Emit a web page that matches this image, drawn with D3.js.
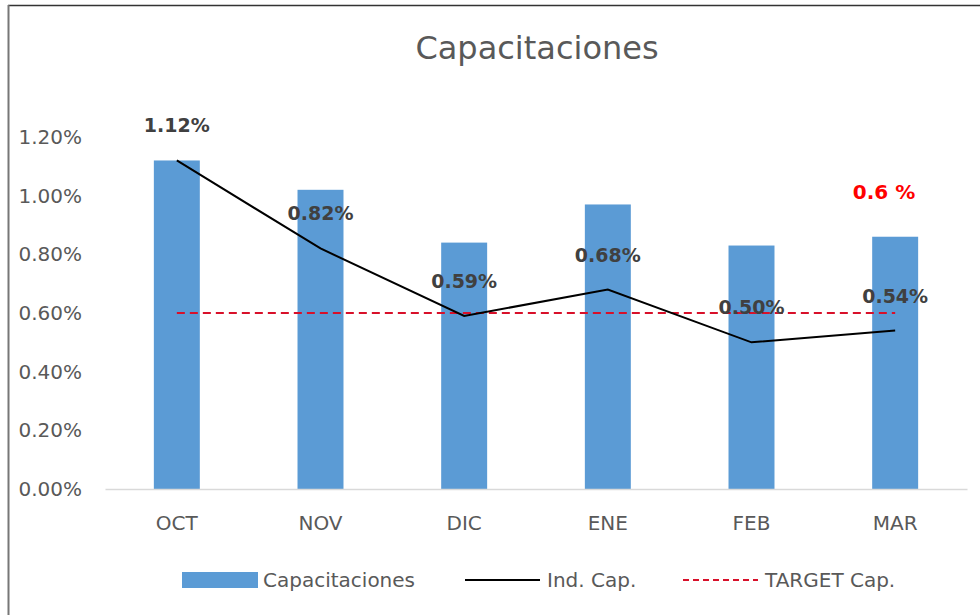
<!DOCTYPE html>
<html>
<head>
<meta charset="utf-8">
<script src="https://cdn.jsdelivr.net/npm/d3@7"></script>
<style>
  body { margin: 0; background: #fff; }
  svg { display: block; }
</style>
</head>
<body>
<svg></svg>
<script>
// Chart data
const months = ["OCT", "NOV", "DIC", "ENE", "FEB", "MAR"];
const capacitaciones = [0.0112, 0.0102, 0.0084, 0.0097, 0.0083, 0.0086];
const indCap = [0.0112, 0.0082, 0.0059, 0.0068, 0.0050, 0.0054];
const targetCap = [0.006, 0.006, 0.006, 0.006, 0.006, 0.006];
const yTicks = [0, 0.002, 0.004, 0.006, 0.008, 0.010, 0.012];

const width = 980;
const height = 615;
const font = "'DejaVu Sans', sans-serif";

const svg = d3.select("svg")
    .attr("width", width)
    .attr("height", height);

// frame (top + left edges only are visible)
svg.append("line")
    .attr("x1", 8).attr("x2", width)
    .attr("y1", 5.5).attr("y2", 5.5)
    .style("stroke", "#333").style("stroke-width", 1.5);
svg.append("line")
    .attr("x1", 8.5).attr("x2", 8.5)
    .attr("y1", 5).attr("y2", height)
    .style("stroke", "#777").style("stroke-width", 2);

// scales
const x = d3.scaleBand()
    .domain(months)
    .range([105, 967])
    .paddingInner(0.68)
    .paddingOuter(0.34);

const y = d3.scaleLinear()
    .domain([0, 0.012])
    .range([489, 137]);

const cx = d => x(d) + x.bandwidth() / 2;
const pct = d3.format(".2%");

// title
svg.append("text")
    .attr("x", 537)
    .attr("y", 59)
    .attr("text-anchor", "middle")
    .style("font-family", font)
    .style("font-size", "32px")
    .style("fill", "#595959")
    .text("Capacitaciones");

// y axis (labels only)
const yAxis = svg.append("g")
    .attr("transform", "translate(82,0)")
    .call(d3.axisLeft(y).tickValues(yTicks).tickFormat(pct).tickSize(0).tickPadding(0));
yAxis.select(".domain").remove();
yAxis.selectAll("text")
    .style("font-family", font)
    .style("font-size", "20px")
    .style("fill", "#595959");

// bars
svg.append("g").selectAll("rect")
    .data(capacitaciones)
    .enter()
    .append("rect")
    .attr("x", (d, i) => x(months[i]))
    .attr("y", d => y(d))
    .attr("width", x.bandwidth())
    .attr("height", d => y(0) - y(d))
    .style("fill", "#5B9BD5");

// x axis
const xAxis = svg.append("g")
    .attr("transform", "translate(0," + y(0) + ")")
    .call(d3.axisBottom(x).tickSize(0).tickPadding(27));
xAxis.select(".domain")
    .style("stroke", "#d9d9d9")
    .style("stroke-width", 1.5);
xAxis.selectAll("text")
    .style("font-family", font)
    .style("font-size", "20px")
    .style("fill", "#595959");

// target line
const line = d3.line()
    .x((d, i) => cx(months[i]))
    .y(d => y(d));

svg.append("path")
    .datum(targetCap)
    .attr("d", line)
    .style("fill", "none")
    .style("stroke", "#D8102A")
    .style("stroke-width", 2)
    .style("stroke-dasharray", "8,5");

// indicator line
svg.append("path")
    .datum(indCap)
    .attr("d", line)
    .style("fill", "none")
    .style("stroke", "#000")
    .style("stroke-width", 2);

// data labels
svg.append("g").selectAll("text")
    .data(indCap)
    .enter()
    .append("text")
    .attr("x", (d, i) => cx(months[i]))
    .attr("y", d => y(d) - 28)
    .attr("text-anchor", "middle")
    .style("font-family", font)
    .style("font-size", "19px")
    .style("font-weight", "bold")
    .style("fill", "#404040")
    .text(d => pct(d));

// red target note
svg.append("text")
    .attr("x", 884)
    .attr("y", 199)
    .attr("text-anchor", "middle")
    .style("font-family", font)
    .style("font-size", "20px")
    .style("font-weight", "bold")
    .style("fill", "#FF0000")
    .text("0.6 %");

// legend
const legend = svg.append("g").attr("transform", "translate(0,580)");
const legendText = (lx, label) => legend.append("text")
    .attr("x", lx)
    .attr("y", 7)
    .style("font-family", font)
    .style("font-size", "20px")
    .style("fill", "#595959")
    .text(label);

legend.append("rect")
    .attr("x", 182).attr("y", -8)
    .attr("width", 76).attr("height", 16)
    .style("fill", "#5B9BD5");
legendText(263, "Capacitaciones");

legend.append("line")
    .attr("x1", 465).attr("x2", 540)
    .attr("y1", 0).attr("y2", 0)
    .style("stroke", "#000").style("stroke-width", 2);
legendText(547, "Ind. Cap.");

legend.append("line")
    .attr("x1", 683).attr("x2", 758)
    .attr("y1", 0).attr("y2", 0)
    .style("stroke", "#D8102A").style("stroke-width", 2)
    .style("stroke-dasharray", "6,4");
legendText(765, "TARGET Cap.");
</script>
</body>
</html>
